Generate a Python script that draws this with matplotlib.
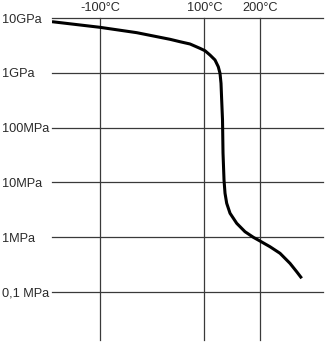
import numpy as np
import matplotlib
matplotlib.use("Agg")
import matplotlib.pyplot as plt

# Data (temperature in °C, modulus in Pa)
temperature = [-192, -100, -29.6, 34.2, 53.4, 72.6, 91.8, 101.3, 110.2, 119.2,
               125.1, 128.2, 130.0, 131.2, 132.7, 133.6, 135.4, 137.2, 140.2,
               146.2, 158.2, 173.1, 188, 200, 217.9, 235.9, 253.8, 265.8, 274.8]
modulus = [8.67e9, 6.84e9, 5.46e9, 4.13e9, 3.73e9, 3.39e9, 2.82e9, 2.55e9,
           2.13e9, 1.73e9, 1.30e9, 9.86e8, 6.47e8, 3.21e8, 1.38e8, 3.44e7,
           1.10e7, 6.31e6, 4.14e6, 2.72e6, 1.78e6, 1.25e6, 9.89e5, 8.45e5,
           6.65e5, 5.04e5, 3.30e5, 2.32e5, 1.76e5]

x_ticks = [-100, 100, 200]
x_labels = ["-100°C", "100°C", "200°C"]
y_ticks = [1e10, 1e9, 1e8, 1e7, 1e6, 1e5]
y_labels = ["10GPa", "1GPa", "100MPa", "10MPa", "1MPa", "0,1 MPa"]

plt.rcParams['font.family'] = ['Liberation Sans', 'DejaVu Sans']

# Piecewise-linear temperature scale (schematic chart)
knots_t = np.array([-192.0, -100.0, 100.0, 200.0, 313.0])
knots_p = np.array([0.0, 48.0, 152.3, 208.0, 271.0])

def fwd(t):
    return np.interp(t, knots_t, knots_p)

def inv(p):
    return np.interp(p, knots_p, knots_t)

W, H = 330, 352
fig = plt.figure(figsize=(W / 100, H / 100), dpi=100)
ax = fig.add_axes([52 / W, 1 - 340 / H, (323 - 52) / W, (340 - 18.3) / H])
ax.set_xscale('function', functions=(fwd, inv))
ax.set_yscale('log')
ax.set_xlim(-192, 313)
top = 10.0
bottom = top - (340 - 18.3) / 54.68
ax.set_ylim(10 ** bottom, 10 ** top)

for s in ax.spines.values():
    s.set_visible(False)

ax.set_xticks(x_ticks)
ax.set_xticklabels(x_labels)
ax.xaxis.tick_top()
ax.tick_params(axis='x', length=0, pad=3, labelsize=9.2, colors='#2a2a2a')
ax.minorticks_off()
ax.set_yticks(y_ticks)
ax.set_yticklabels(y_labels)
ax.tick_params(axis='y', length=0, pad=36, labelsize=9.2, colors='#2a2a2a')
for lab in ax.get_yticklabels():
    lab.set_horizontalalignment('left')

ax.grid(True, which='major', color='#3a3a3a', linewidth=0.9)
for gl in ax.get_ygridlines() + ax.get_xgridlines():
    gl.set_clip_on(False)
ax.set_axisbelow(True)

ax.plot(temperature, modulus, color='black', linewidth=2.2,
        solid_capstyle='butt', solid_joinstyle='round')

fig.savefig("out.png", dpi=100)
